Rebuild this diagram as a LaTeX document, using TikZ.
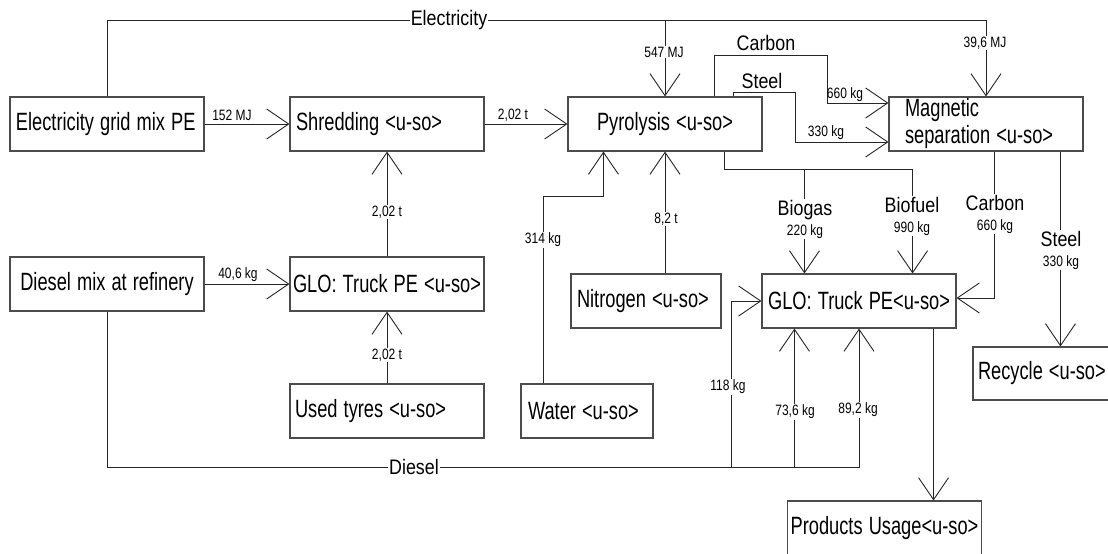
\documentclass[tikz,border=0pt]{standalone}
\usepackage{fontspec}
\setmainfont{Liberation Sans}
\usepackage{graphicx}
\usetikzlibrary{arrows.meta,calc}
\newcommand{\bigt}[1]{\scalebox{0.73}[1]{\fontsize{25}{27}\selectfont #1}}
\newcommand{\medt}[1]{\scalebox{0.85}[1]{\fontsize{21}{23}\selectfont #1}}
\newcommand{\smt}[1]{\scalebox{0.8}[1]{\fontsize{15}{17}\selectfont #1}}
\begin{document}
\begin{tikzpicture}[x=1pt,y=-1pt,
  box/.style={draw=black!70, line width=1.1pt, fill=white, minimum height=54pt,
    inner xsep=6pt, inner ysep=0pt, align=left, text width=182pt,
    font=\fontsize{25}{27}\selectfont},
  cbox/.style={box, align=center, inner xsep=2pt, text width=190pt},
  ln/.style={draw=black!85, line width=0.9pt},
  arr/.style={ln, -{Straight Barb[length=22pt, width=30pt, line width=0.9pt]}},
  sl/.style={inner sep=1pt, fill=white},
  ml/.style={inner sep=1pt, fill=white},
  two/.style={inner sep=1pt, fill=white, align=center, font=\fontsize{15}{20}\selectfont},
]
\useasboundingbox[fill=white] (0,0) rectangle (1108,554);

% boxes
\node[box] (elec) at (107,124) {\bigt{Electricity grid mix PE}};
\node[box] (shred) at (387,124) {\bigt{Shredding <u-so>}};
\node[cbox] (pyro) at (665,124) {\bigt{Pyrolysis <u-so>}};
\node[box, inner xsep=16pt, text width=162pt] (mag) at (986,124) {\bigt{Magnetic}\\\bigt{separation <u-so>}};
\node[cbox] (diesel) at (107,284) {\bigt{Diesel mix at refinery}};
\node[cbox] (truck1) at (387,284) {\bigt{GLO: Truck PE <u-so>}};
\node[box, inner xsep=5pt, text width=184pt] (tyres) at (387,411) {\bigt{Used tyres <u-so>}};
\node[box, text width=118pt, inner xsep=7pt] (water) at (587,411) {\bigt{Water <u-so>}};
\node[box, text width=138pt] (nitro) at (646,301) {\bigt{Nitrogen <u-so>}};
\node[cbox] (truck2) at (859,301) {\bigt{GLO: Truck PE<u-so>}};
\node[box, minimum height=53pt, inner xsep=5pt, text width=184pt] (recycle) at (1070,373.5) {\bigt{Recycle <u-so>}};
\node[cbox] (products) at (884.5,528) {\bigt{Products Usage<u-so>}};

% coordinates
\coordinate (etop) at (107,20);
\coordinate (dbus) at (107,467);
\coordinate (pbus) at (800,169);
\coordinate (bg) at ($(truck2.north west)+(43,0)$);
\coordinate (bf) at ($(truck2.north east)+(-44,0)$);
\coordinate (po) at ($(pyro.south east)+(-38,0)$);
\coordinate (wbot) at ($(water.north)+(-44,0)$);
\coordinate (wtop) at (543,196);
\coordinate (win) at ($(pyro.south west)+(36,0)$);
\coordinate (cstart) at ($(pyro.north east)+(-48,0)$);
\coordinate (ctop) at (827,55);
\coordinate (cin) at ($(mag.west)+(0,-21)$);
\coordinate (sstart) at ($(pyro.north east)+(-29,0)$);
\coordinate (stop) at (795,92);
\coordinate (sin) at ($(mag.west)+(0,18)$);
\coordinate (mc) at ($(mag.south west)+(106,0)$);
\coordinate (tin) at ($(truck2.east)+(0,-3)$);
\coordinate (rin) at ($(recycle.north west)+(88,0)$);
\coordinate (tout) at ($(truck2.south east)+(-23,0)$);
\coordinate (d1) at (731,467);
\coordinate (d2) at ($(truck2.south west)+(33,0)$);

% electricity
\draw[arr] (elec.east) -- (shred.west);
\node[inner sep=0pt] (l152) at (232,115) {\smt{152 MJ}};
\draw[arr] (shred.east) -- (pyro.west);
\node[inner sep=0pt] (l202a) at (513,115) {\smt{2,02 t}};
\draw[arr] (elec.north) -- (etop) -| (mag.north);
\draw[arr] (pyro.north |- etop) -- (pyro.north);
\node[ml] (lel) at (449,20) {\medt{Electricity}};
\node[sl] (l547) at (664,52) {\smt{547 MJ}};
\node[sl] (l396) at (985,43) {\smt{39,6 MJ}};

% pyrolysis to magnetic
\draw[arr] (cstart) |- (ctop) |- (cin);
\node[inner sep=0pt] (lcarb) at (766,43) {\medt{Carbon}};
\node[inner sep=0pt] (l660) at (845,95) {\smt{660 kg}};
\draw[arr] (sstart) |- (stop) |- (sin);
\node[inner sep=0pt] (lsteel) at (762,81) {\medt{Steel}};
\node[inner sep=0pt] (l330) at (826,133) {\smt{330 kg}};

% truck1 / tyres / diesel
\draw[arr] (truck1.north) -- (shred.south);
\node[sl] (l202b) at (387,212) {\smt{2,02 t}};
\draw[arr] (diesel.east) -- (truck1.west);
\node[inner sep=0pt] (l406) at (238,275) {\smt{40,6 kg}};
\draw[arr] (tyres.north) -- (truck1.south);
\node[sl] (l202c) at (387,355) {\smt{2,02 t}};

% water, nitrogen
\draw[arr] (wbot) -- (wtop) -| (win);
\node[sl] (l314) at (543,240) {\smt{314 kg}};
\draw[arr] (pyro.south |- nitro.north) -- (pyro.south);
\node[sl] (l82) at (666,219) {\smt{8,2 t}};

% pyrolysis to truck2
\draw[arr] (po) |- (pbus -| bf) -- (bf);
\draw[arr] (bg |- pbus) -- (bg);
\node[two] (lbg) at (805,219) {\medt{Biogas}\\\smt{220 kg}};
\node[two] (lbf) at (912,216) {\medt{Biofuel}\\\smt{990 kg}};

% magnetic outputs
\draw[arr] (mc) |- (tin);
\node[two] (lmc) at (995,214) {\medt{Carbon}\\\smt{660 kg}};
\draw[arr] (mag.south -| rin) -- (rin);
\node[two] (lms) at (1061,250) {\medt{Steel}\\\smt{330 kg}};

% truck2 to products
\draw[arr] (tout) -- (products.north -| tout);

% diesel
\draw[arr] (diesel.south) -- (dbus) -| (truck2.south);
\draw[arr] (d1) |- (truck2.west);
\draw[arr] (d2 |- dbus) -- (d2);
\node[ml] (ldie) at (414,467) {\medt{Diesel}};
\node[sl] (l118) at (728,387) {\smt{118 kg}};
\node[sl] (l736) at (795,412) {\smt{73,6 kg}};
\node[sl] (l892) at (858,410) {\smt{89,2 kg}};
\end{tikzpicture}
\end{document}
